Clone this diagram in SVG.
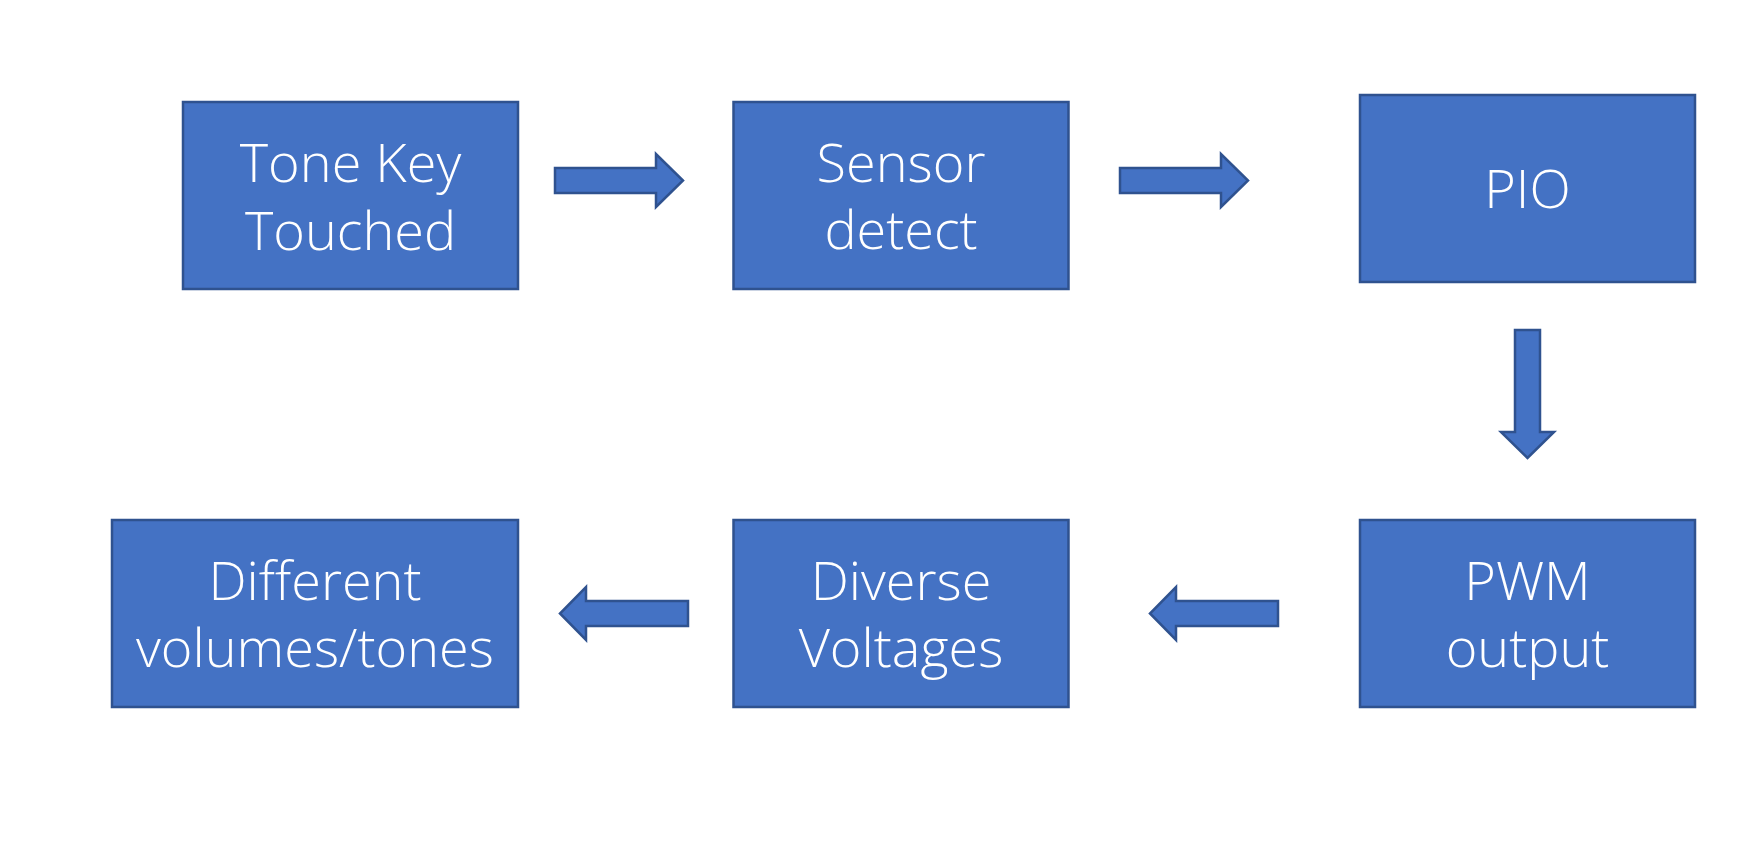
<svg xmlns="http://www.w3.org/2000/svg" width="1749" height="841" viewBox="0 0 1749 841">
<style>
.box{fill:#4472C4;stroke:#2F528F;stroke-width:2.5}
.arr{fill:#4472C4;stroke:#2F528F;stroke-width:2.5;stroke-linejoin:miter}
.t{fill:#FFFFFF;font-family:"Open Sans","Liberation Sans",sans-serif;font-weight:350;font-size:54px;text-anchor:middle}
</style>
<rect width="1749" height="841" fill="#FFFFFF"/>
<g id="tone-key">
<rect class="box" x="183" y="102" width="335" height="187"/>
<text class="t" x="350.5" y="182">Tone Key</text>
<text class="t" x="350.5" y="250">Touched</text>
</g>
<g id="sensor">
<rect class="box" x="733.5" y="102" width="335" height="187"/>
<text class="t" x="901" y="182">Sensor</text>
<text class="t" x="901" y="249">detect</text>
</g>
<g id="pio">
<rect class="box" x="1360" y="95" width="335" height="187"/>
<text class="t" x="1527.5" y="208">PIO</text>
</g>
<g id="pwm">
<rect class="box" x="1360" y="520" width="335" height="187"/>
<text class="t" x="1527.5" y="600">PWM</text>
<text class="t" x="1527.5" y="667">output</text>
</g>
<g id="diverse">
<rect class="box" x="733.5" y="520" width="335" height="187"/>
<text class="t" x="901" y="600">Diverse</text>
<text class="t" x="901" y="667">Voltages</text>
</g>
<g id="different">
<rect class="box" x="112" y="520" width="406" height="187"/>
<text class="t" x="315" y="600">Different</text>
<text class="t" x="315" y="667">volumes/tones</text>
</g>
<g id="connectors">
<polygon class="arr" points="555,168 656,168 656,154 683,180.5 656,207 656,193 555,193"/>
<polygon class="arr" points="1120,168 1221,168 1221,154 1248,180.5 1221,207 1221,193 1120,193"/>
<polygon class="arr" points="1515,330 1540,330 1540,432 1554,432 1527.5,458 1501,432 1515,432"/>
<polygon class="arr" points="1278,601 1176,601 1176,587 1150,613.5 1176,640 1176,626 1278,626"/>
<polygon class="arr" points="688,601 586,601 586,587 560,613.5 586,640 586,626 688,626"/>
</g>
</svg>
